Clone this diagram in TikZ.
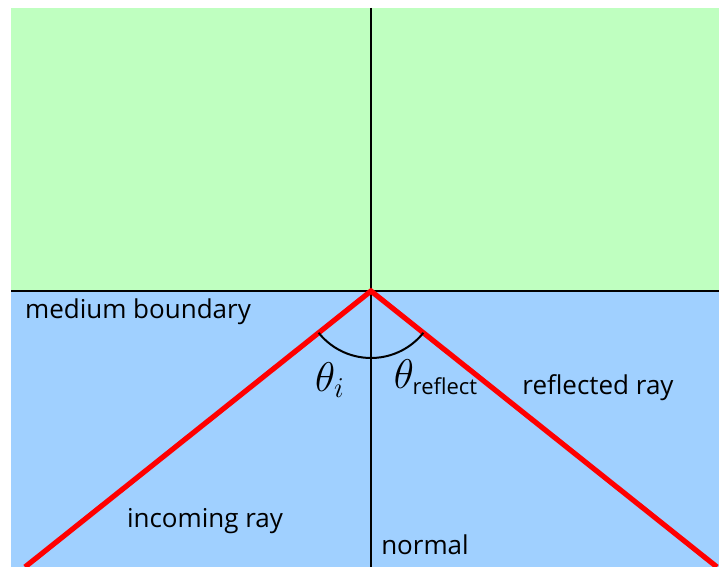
\documentclass[tikz,border=0pt]{standalone}
\usepackage{fontspec}
\setmainfont{Open Sans}
\usetikzlibrary{calc}
\definecolor{upperside}{RGB}{191,255,192}
\definecolor{lowerside}{RGB}{160,208,255}
\tikzset{lbl/.style={font=\fontsize{13}{16}\selectfont}}
\begin{document}
\begin{tikzpicture}[x=0.5pt, y=-0.5pt]
  \useasboundingbox (0,0) rectangle (719,567);
  \fill[upperside] (11,8) rectangle (719,291);
  \fill[lowerside] (11,291) rectangle (719,567);
  \draw[line width=1pt] (11,291) -- (719,291);
  \draw[line width=1pt] (371,8) -- (371,567);
  \coordinate (hit) at (371,291);
  \coordinate (inend) at (25,567);
  \coordinate (outend) at (717,567);
  \draw[red, line width=2.6pt, line join=miter] (inend) -- (hit) -- (outend);
  \draw[line width=1pt] (hit) ++(141.4:67) arc[start angle=141.4, end angle=38.6, radius=67];
  \node[lbl] (boundary) at (138,312) {medium boundary};
  \node[font=\fontsize{21}{22}\selectfont] (thetai) at (330,380) {$\theta_i$};
  \node[font=\fontsize{21}{22}\selectfont] (thetar) at (436,377)
    {$\theta_{\mbox{\fontsize{11}{12}\selectfont reflect}}$};
  \node[lbl] (reflected) at (598,388) {reflected ray};
  \node[lbl] (incoming) at (205,521) {incoming ray};
  \node[lbl] (normal) at (425,545) {normal};
\end{tikzpicture}
\end{document}
